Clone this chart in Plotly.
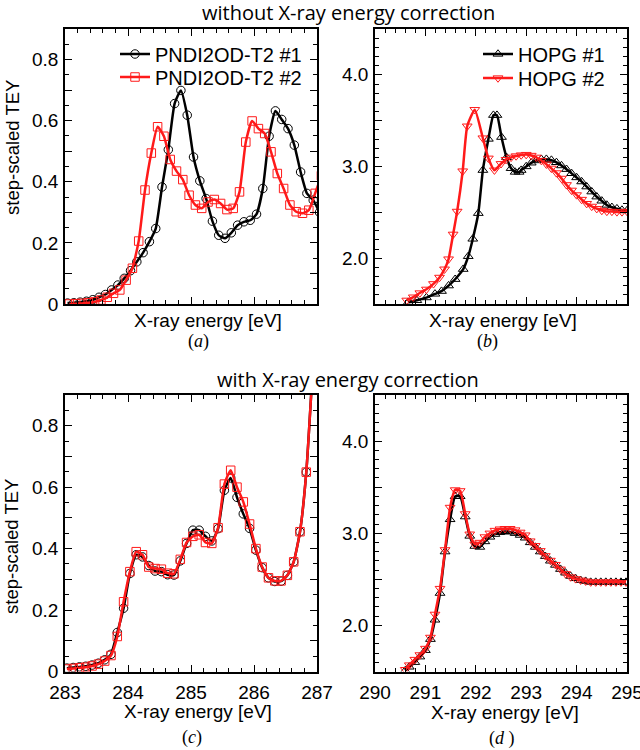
import plotly.graph_objects as go

# ---------------- data ----------------
# (a) without correction, PNDI2OD-T2
a1_x = [283.04, 283.14, 283.24, 283.34, 283.44, 283.54, 283.64, 283.74, 283.84, 283.94,
        284.04, 284.14, 284.24, 284.34, 284.44, 284.54, 284.64, 284.74, 284.84, 284.94,
        285.04, 285.14, 285.24, 285.34, 285.44, 285.54, 285.64, 285.74, 285.84, 285.94,
        286.04, 286.14, 286.24, 286.34, 286.44, 286.54, 286.64, 286.74, 286.84, 286.94, 287.04]
a1_y = [0.003, 0.004, 0.006, 0.009, 0.014, 0.022, 0.031, 0.046, 0.062, 0.084,
        0.109, 0.138, 0.168, 0.204, 0.247, 0.383, 0.505, 0.656, 0.699, 0.618,
        0.481, 0.403, 0.345, 0.271, 0.225, 0.215, 0.233, 0.258, 0.269, 0.274,
        0.294, 0.378, 0.549, 0.632, 0.604, 0.574, 0.520, 0.432, 0.362, 0.340, 0.300]
a2_x = [283.07, 283.17, 283.27, 283.37, 283.47, 283.57, 283.67, 283.77, 283.87, 283.97,
        284.07, 284.17, 284.27, 284.37, 284.47, 284.57, 284.67, 284.77, 284.87, 284.97,
        285.07, 285.17, 285.27, 285.37, 285.47, 285.57, 285.67, 285.77, 285.87, 285.97,
        286.07, 286.17, 286.27, 286.37, 286.47, 286.57, 286.67, 286.77, 286.87, 286.97, 287.07]
a2_y = [0.000, 0.001, 0.002, 0.004, 0.007, 0.013, 0.022, 0.035, 0.046, 0.078,
        0.117, 0.206, 0.373, 0.494, 0.580, 0.549, 0.473, 0.435, 0.407, 0.356,
        0.324, 0.313, 0.334, 0.342, 0.329, 0.309, 0.313, 0.367, 0.530, 0.599,
        0.574, 0.558, 0.498, 0.427, 0.378, 0.324, 0.302, 0.297, 0.307, 0.362, 0.420]

# (b) without correction, HOPG
b1_x = [290.66, 290.83, 291.02, 291.19, 291.32, 291.46, 291.59, 291.75, 291.85, 291.94,
        292.05, 292.14, 292.25, 292.35, 292.42, 292.51, 292.61, 292.70, 292.78, 292.86,
        292.90, 293.00, 293.10, 293.20, 293.30, 293.40, 293.50, 293.60, 293.70, 293.80,
        293.90, 294.00, 294.10, 294.20, 294.30, 294.40, 294.50, 294.60, 294.70, 294.80,
        294.90, 295.00]
b1_y = [1.52, 1.54, 1.57, 1.61, 1.64, 1.70, 1.77, 1.88, 2.02, 2.21,
        2.49, 2.96, 3.30, 3.56, 3.56, 3.32, 3.10, 2.98, 2.94, 2.94,
        2.96, 3.00, 3.04, 3.065, 3.08, 3.08, 3.07, 3.045, 3.01, 2.97,
        2.925, 2.88, 2.835, 2.78, 2.725, 2.67, 2.625, 2.58, 2.555, 2.54,
        2.525, 2.52]
b2_x = [290.63, 290.76, 290.89, 291.02, 291.16, 291.28, 291.38, 291.46, 291.55, 291.63,
        291.74, 291.83, 291.98, 292.14, 292.25, 292.37, 292.50, 292.60, 292.70, 292.80,
        292.90, 293.00, 293.10, 293.20, 293.30, 293.40, 293.50, 293.60, 293.70, 293.80,
        293.90, 294.00, 294.10, 294.20, 294.30, 294.40, 294.50, 294.60, 294.70, 294.80,
        294.90, 295.00]
b2_y = [1.54, 1.575, 1.62, 1.66, 1.72, 1.79, 1.88, 1.99, 2.26, 2.51,
        2.95, 3.44, 3.62, 3.31, 3.09, 2.96, 3.03, 3.075, 3.10, 3.115,
        3.125, 3.13, 3.12, 3.10, 3.065, 3.025, 2.98, 2.93, 2.87, 2.80,
        2.74, 2.69, 2.64, 2.595, 2.565, 2.54, 2.52, 2.51, 2.51, 2.505,
        2.505, 2.51]

# (c) with correction, PNDI2OD-T2
c_x = [283.03, 283.13, 283.23, 283.33, 283.43, 283.53, 283.63, 283.73, 283.83, 283.93,
       284.03, 284.13, 284.23, 284.33, 284.43, 284.53, 284.63, 284.73, 284.83, 284.93,
       285.03, 285.13, 285.23, 285.33, 285.43, 285.53, 285.63, 285.73, 285.83, 285.93,
       286.03, 286.13, 286.23, 286.33, 286.43, 286.53, 286.63, 286.73, 286.83, 286.93]
c1_y = [0.011, 0.013, 0.015, 0.017, 0.021, 0.027, 0.038, 0.056, 0.127, 0.206,
        0.319, 0.380, 0.373, 0.345, 0.327, 0.325, 0.315, 0.314, 0.360, 0.417,
        0.460, 0.460, 0.440, 0.425, 0.465, 0.590, 0.630, 0.567, 0.513, 0.466,
        0.395, 0.338, 0.305, 0.293, 0.294, 0.313, 0.357, 0.455, 0.649, 0.980]
c2_y = [0.008, 0.010, 0.012, 0.014, 0.018, 0.024, 0.034, 0.052, 0.114, 0.227,
        0.325, 0.390, 0.380, 0.340, 0.335, 0.333, 0.320, 0.318, 0.365, 0.420,
        0.440, 0.445, 0.420, 0.417, 0.468, 0.610, 0.655, 0.600, 0.552, 0.480,
        0.400, 0.340, 0.305, 0.295, 0.295, 0.313, 0.357, 0.455, 0.649, 0.980]

# (d) with correction, HOPG
d_x = [290.60, 290.68, 290.79, 290.89, 291.00, 291.10, 291.19, 291.29, 291.39, 291.49,
       291.59, 291.69, 291.79, 291.88, 291.98, 292.08, 292.18, 292.28, 292.38, 292.48,
       292.58, 292.68, 292.78, 292.88, 292.98, 293.08, 293.18, 293.28, 293.38, 293.48,
       293.58, 293.68, 293.78, 293.88, 293.98, 294.08, 294.18, 294.28, 294.38, 294.48,
       294.58, 294.68, 294.78, 294.88, 294.98]
d1_y = [1.51, 1.55, 1.60, 1.66, 1.73, 1.85, 2.06, 2.35, 2.80, 3.15,
        3.40, 3.40, 3.18, 2.97, 2.86, 2.85, 2.91, 2.96, 2.99, 3.01,
        3.02, 3.015, 3.00, 2.98, 2.95, 2.90, 2.85, 2.80, 2.75, 2.70,
        2.655, 2.61, 2.57, 2.535, 2.51, 2.49, 2.48, 2.47, 2.47, 2.47,
        2.47, 2.47, 2.47, 2.47, 2.47]
d2_y = [1.52, 1.57, 1.63, 1.68, 1.75, 1.87, 2.12, 2.40, 2.82, 3.28,
        3.47, 3.46, 3.21, 2.99, 2.88, 2.90, 2.96, 3.00, 3.03, 3.045,
        3.05, 3.05, 3.035, 3.01, 2.98, 2.915, 2.865, 2.81, 2.755, 2.705,
        2.66, 2.61, 2.56, 2.525, 2.505, 2.49, 2.48, 2.47, 2.47, 2.47,
        2.47, 2.47, 2.47, 2.47, 2.47]

tey_vals = [0, 0.1, 0.2, 0.3, 0.4, 0.5, 0.6, 0.7, 0.8, 0.9]
tey_text = ["0", "", "0.2", "", "0.4", "", "0.6", "", "0.8", ""]
hopg_vals = [1.5, 2.0, 2.5, 3.0, 3.5, 4.0, 4.5]
hopg_text = ["", "2.0", "", "3.0", "", "4.0", ""]

BLACK = "#000000"
RED = "#ff1a1a"
SANS = "Liberation Sans"

fig = go.Figure()


def add(x, y, color, symbol, name, xa, ya, legend="legend", show=False):
    fig.add_trace(go.Scatter(
        x=x, y=y, mode="lines+markers", name=name,
        line=dict(color=color, width=2.5, shape="spline", smoothing=0.5),
        marker=dict(symbol=symbol, size=8.5, color=color, line=dict(width=1, color=color)),
        xaxis=xa, yaxis=ya, showlegend=show, legend=legend))


add(a1_x, a1_y, BLACK, "circle-open", "PNDI2OD-T2 #1", "x", "y", "legend", True)
add(a2_x, a2_y, RED, "square-open", "PNDI2OD-T2 #2", "x", "y", "legend2", True)
add(b1_x, b1_y, BLACK, "triangle-up-open", "HOPG #1", "x2", "y2", "legend3", True)
add(b2_x, b2_y, RED, "triangle-down-open", "HOPG #2", "x2", "y2", "legend4", True)
add(c_x, c1_y, BLACK, "circle-open", "PNDI2OD-T2 #1", "x3", "y3")
add(c_x, c2_y, RED, "square-open", "PNDI2OD-T2 #2", "x3", "y3")
add(d_x, d1_y, BLACK, "triangle-up-open", "HOPG #1", "x4", "y4")
add(d_x, d2_y, RED, "triangle-down-open", "HOPG #2", "x4", "y4")

W, H = 640, 750


def px(v):
    return v / W


def py(v):
    return 1 - v / H


common = dict(showline=True, linecolor="black", linewidth=1.5, mirror="ticks",
              ticks="inside", ticklen=7, tickwidth=1.2, tickcolor="black",
              showgrid=False, zeroline=False, automargin=False,
              ticklabeloverflow="allow",
              tickfont=dict(family=SANS, size=19, color="black"))


def xax(rng, dom, anchor, labels):
    d = dict(common)
    d.update(range=rng, domain=dom, anchor=anchor, tickmode="linear", tick0=rng[0], dtick=1,
             showticklabels=labels, ticklabelstandoff=3,
             minor=dict(ticks="inside", ticklen=4, tickwidth=1, tickcolor="black",
                        tickmode="linear", tick0=rng[0], dtick=0.2, showgrid=False))
    return d


def yax(rng, dom, anchor, vals, text, mdt):
    d = dict(common)
    d.update(range=rng, domain=dom, anchor=anchor, tickmode="array", tickvals=vals,
             ticktext=text, ticklabelstandoff=1,
             minor=dict(ticks="inside", ticklen=4, tickwidth=1, tickcolor="black",
                        tickmode="linear", tick0=rng[0], dtick=mdt, showgrid=False))
    return d


xl = [px(65), px(317)]
xr = [px(375), px(627)]
yt = [py(304), py(29)]
yb = [py(671.5), py(395)]


def leg(x, y):
    return dict(x=px(x), y=py(y), xanchor="left", yanchor="middle",
                bgcolor="rgba(0,0,0,0)", font=dict(family=SANS, size=20, color="black"),
                tracegroupgap=0, itemwidth=30)


fig.update_layout(
    template="none",
    width=W, height=H, margin=dict(l=0, r=0, t=0, b=0),
    paper_bgcolor="white", plot_bgcolor="white",
    xaxis=xax([283, 287], xl, "y", False),
    yaxis=yax([0, 0.9], yt, "x", tey_vals, tey_text, 0.05),
    xaxis2=xax([290, 295], xr, "y2", False),
    yaxis2=yax([1.5, 4.5], yt, "x2", hopg_vals, hopg_text, 0.1),
    xaxis3=xax([283, 287], xl, "y3", True),
    yaxis3=yax([0, 0.9], yb, "x3", tey_vals, tey_text, 0.05),
    xaxis4=xax([290, 295], xr, "y4", True),
    yaxis4=yax([1.5, 4.5], yb, "x4", hopg_vals, hopg_text, 0.1),
    legend=leg(115, 54),
    legend2=leg(115, 77),
    legend3=leg(478, 54),
    legend4=leg(478, 78),
)

ann = []


def text(x, y, s, size=19, family=SANS, angle=0):
    ann.append(dict(x=px(x), y=py(y), xref="paper", yref="paper", text=s, showarrow=False,
                    xanchor="center", yanchor="middle", textangle=angle,
                    font=dict(family=family, size=size, color="black")))


text(348, 12, "without X-ray energy correction", size=20, family="Open Sans")
text(348, 379, "with X-ray energy correction", size=20, family="Open Sans")
text(12, 148, "step-scaled TEY", size=18.5, angle=-90)
text(11, 547, "step-scaled TEY", size=18.5, angle=-90)
text(208, 321, "X-ray energy [eV]")
text(503, 321, "X-ray energy [eV]")
text(198, 711, "X-ray energy [eV]")
text(505, 712, "X-ray energy [eV]")
text(198, 342, "(<i>a</i>)", size=18, family="Liberation Serif")
text(487, 342, "(<i>b</i>)", size=18, family="Liberation Serif")
text(192, 737, "(<i>c</i>)", size=18, family="Liberation Serif")
text(502, 738, "(<i>d</i> )", size=18, family="Liberation Serif")
fig.update_layout(annotations=ann)

fig.write_html("out.html", config={"displayModeBar": False},
               post_script="document.body.style.margin='0';document.body.style.overflow='hidden';")
